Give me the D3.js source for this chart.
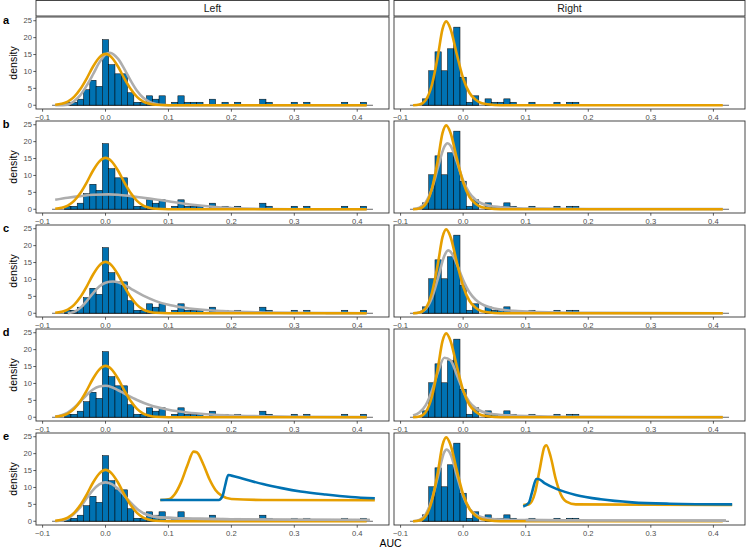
<!DOCTYPE html>
<html lang="en">
  <head>
    <meta charset="utf-8">
    <title>AUC density panels</title>
    <script src="https://d3js.org/d3.v7.min.js"></script>
    <style>
      body { margin: 0; background: #fff; }
      text { font-family: "Liberation Sans", Arial, sans-serif; }
    </style>
  </head>
<body>

<script>
// --- data ---
var columns = ["Left", "Right"];
var rowLetters = ["a", "b", "c", "d", "e"];
var xTicks = [-0.1, 0.0, 0.1, 0.2, 0.3, 0.4];
var yTicks = [0, 5, 10, 15, 20, 25];
var binWidth = 0.01;
var histRange = [-0.085, 0.425];

// histogram densities [bin centre, density]
var leftHist = [[-0.06, 0.9], [-0.05, 0.9], [-0.04, 1.8], [-0.03, 4.6], [-0.02, 7.4], [-0.01, 5.6],
  [0.00, 19.4], [0.01, 12.0], [0.02, 9.3], [0.03, 9.3], [0.04, 3.7], [0.05, 0.9], [0.06, 0.9],
  [0.07, 2.8], [0.08, 1.8], [0.09, 2.8], [0.11, 0.9], [0.12, 2.8], [0.13, 0.9], [0.14, 0.9],
  [0.15, 0.9], [0.17, 1.8], [0.19, 0.9], [0.21, 0.9], [0.25, 1.8], [0.26, 0.9], [0.30, 0.9],
  [0.32, 0.9], [0.38, 0.9], [0.41, 0.9]];
var rightHist = [[-0.06, 1.9], [-0.05, 10.2], [-0.04, 15.8], [-0.03, 10.2], [-0.02, 16.7], [-0.01, 23.1],
  [0.00, 8.3], [0.01, 0.9], [0.02, 2.8], [0.04, 1.9], [0.05, 0.9], [0.06, 0.9], [0.07, 1.9],
  [0.08, 0.9], [0.11, 0.9], [0.15, 0.9], [0.17, 0.9], [0.18, 0.9]];

// orange curves (same in every row)
var leftOrange = [[-0.08, 0.15], [-0.07, 0.45], [-0.06, 1.1], [-0.05, 2.5], [-0.04, 4.8], [-0.03, 7.9],
  [-0.02, 11.4], [-0.01, 14.1], [0, 15.2], [0.01, 14.1], [0.02, 11.4], [0.03, 7.9], [0.04, 4.8],
  [0.05, 2.5], [0.06, 1.1], [0.07, 0.45], [0.08, 0.15], [0.1, 0.02], [0.415, 0]];
var rightOrange = [[-0.08, 0], [-0.07, 0.2], [-0.06, 1.5], [-0.05, 6], [-0.04, 15], [-0.033, 22.5],
  [-0.027, 24.8], [-0.02, 22.5], [-0.01, 15], [0, 8], [0.01, 3.7], [0.02, 1.6], [0.03, 0.6],
  [0.05, 0.1], [0.07, 0], [0.415, 0]];

// grey fitted curves, one per row
var greyLeftA = [[-0.08, 0], [-0.06, 0.2], [-0.05, 1.2], [-0.04, 3.0], [-0.03, 5.8], [-0.02, 9.1],
  [-0.01, 12.6], [0, 15.0], [0.007, 15.5], [0.02, 13.7], [0.03, 10.7], [0.04, 7.3], [0.05, 4.3],
  [0.06, 2.2], [0.07, 1.0], [0.08, 0.4], [0.09, 0.1], [0.11, 0], [0.415, 0]];
var greyLeftB = [[-0.08, 2.8], [-0.06, 3.4], [-0.04, 3.9], [-0.02, 4.3], [0.005, 4.4], [0.02, 4.3],
  [0.04, 3.9], [0.06, 3.4], [0.08, 2.9], [0.1, 2.4], [0.12, 1.8], [0.15, 1.1], [0.18, 0.6],
  [0.2, 0.4], [0.25, 0.1], [0.3, 0.02], [0.415, 0]];
var greyLeftC = [[-0.06, 0], [-0.05, 0.4], [-0.04, 1.6], [-0.03, 3.6], [-0.02, 5.9], [-0.01, 7.9],
  [0, 9.0], [0.012, 9.4], [0.02, 9.2], [0.03, 8.4], [0.04, 7.3], [0.06, 5.2], [0.08, 3.6],
  [0.1, 2.5], [0.12, 1.8], [0.15, 1.1], [0.2, 0.5], [0.25, 0.25], [0.3, 0.12], [0.35, 0.06], [0.415, 0.03]];
var greyLeftD = [[-0.08, 0.2], [-0.07, 0.6], [-0.06, 1.4], [-0.05, 2.8], [-0.04, 4.6], [-0.03, 6.6],
  [-0.02, 8.2], [-0.01, 9.1], [0, 9.3], [0.01, 8.9], [0.02, 8.0], [0.03, 7.0], [0.05, 5.1],
  [0.07, 3.6], [0.1, 2.2], [0.13, 1.4], [0.16, 0.9], [0.2, 0.5], [0.25, 0.3], [0.3, 0.15], [0.415, 0.05]];
var greyLeftE = [[-0.08, 0], [-0.06, 0.8], [-0.05, 2.2], [-0.04, 4.2], [-0.03, 6.8], [-0.02, 9.2],
  [-0.01, 10.9], [0, 11.5], [0.01, 11.0], [0.02, 9.6], [0.03, 7.6], [0.04, 5.5], [0.05, 3.7],
  [0.06, 2.4], [0.07, 1.7], [0.08, 1.3], [0.1, 1.0], [0.15, 0.7], [0.2, 0.55], [0.3, 0.45], [0.42, 0.4]];
var greyRightB = [[-0.08, 0.1], [-0.07, 0.5], [-0.06, 2.0], [-0.05, 6.0], [-0.04, 12.5], [-0.03, 18.5],
  [-0.025, 19.5], [-0.02, 18.8], [-0.01, 14.0], [0, 8.5], [0.01, 4.8], [0.02, 2.8], [0.03, 1.7],
  [0.05, 0.8], [0.08, 0.4], [0.12, 0.2], [0.2, 0.1], [0.415, 0.05]];
var greyRightC = [[-0.08, 0], [-0.07, 0.2], [-0.06, 1.2], [-0.05, 4.5], [-0.04, 10.5], [-0.03, 17],
  [-0.024, 18.6], [-0.02, 18.2], [-0.01, 14.5], [0, 9.8], [0.01, 6.2], [0.02, 4.0], [0.03, 2.7],
  [0.05, 1.4], [0.08, 0.7], [0.12, 0.35], [0.2, 0.12], [0.415, 0.02]];
var greyRightD = [[-0.08, 0.5], [-0.07, 1.4], [-0.06, 3.5], [-0.05, 7.8], [-0.04, 13.5], [-0.03, 17.6],
  [-0.02, 16.8], [-0.01, 12.5], [0, 7.8], [0.01, 4.5], [0.02, 2.7], [0.03, 1.7], [0.05, 0.9],
  [0.08, 0.5], [0.12, 0.3], [0.2, 0.15], [0.415, 0.05]];
var greyRightE = [[-0.08, 0], [-0.07, 0.4], [-0.06, 2.0], [-0.05, 6.5], [-0.04, 13.5], [-0.03, 20.5],
  [-0.027, 21.2], [-0.02, 19.8], [-0.01, 13.5], [0, 7.5], [0.01, 3.8], [0.02, 2.0], [0.03, 1.2],
  [0.05, 0.6], [0.1, 0.35], [0.2, 0.25], [0.42, 0.2]];

// inset curves in row e
var leftInsetOrange = [[0.087, 6.3], [0.1, 6.5], [0.11, 8], [0.12, 11.5], [0.13, 16.5], [0.14, 20.6],
  [0.145, 20.4], [0.155, 17], [0.165, 12.5], [0.175, 9.2], [0.185, 7.5], [0.2, 6.6], [0.25, 6.3], [0.428, 6.2]];
var leftInsetBlue = [[0.087, 6.3], [0.18, 6.3], [0.186, 7.5], [0.19, 10.5], [0.195, 13.7], [0.2, 13.5],
  [0.22, 12.5], [0.25, 11.0], [0.28, 9.8], [0.31, 8.8], [0.35, 7.9], [0.39, 7.2], [0.428, 6.8]];
var rightInsetOrange = [[0.096, 4.8], [0.105, 5], [0.115, 8.5], [0.122, 15], [0.13, 22], [0.133, 22.5],
  [0.14, 19], [0.148, 12.5], [0.156, 8], [0.165, 5.8], [0.18, 5.0], [0.43, 4.8]];
var rightInsetBlue = [[0.096, 4.4], [0.105, 5.5], [0.11, 8.5], [0.117, 12.5], [0.12, 12.5], [0.13, 11.3],
  [0.15, 9.5], [0.18, 7.8], [0.22, 6.5], [0.27, 5.6], [0.33, 5.2], [0.43, 5.0]];

var hists = [leftHist, rightHist];
var oranges = [leftOrange, rightOrange];
var greys = [[greyLeftA, greyLeftB, greyLeftC, greyLeftD, greyLeftE],
             [null, greyRightB, greyRightC, greyRightD, greyRightE]];
var insets = [[leftInsetOrange, leftInsetBlue], [rightInsetOrange, rightInsetBlue]];

// --- layout ---
var W = 750, H = 550;
var colX = [[36, 389], [394, 745]];
var firstTop = 17, rowStep = 104, panelH = 92, stripH = 16;
var blue = "#0072B2", orange = "#E69F00", grey = "#ADADAD", frame = "#333333", tickCol = "#4D4D4D";

var svg = d3.select("body").append("svg")
    .attr("width", W)
    .attr("height", H)
    .style("background", "#fff");

var y0 = d3.scaleLinear().domain([-1.1, 26.1]).range([panelH, 0]);
var line = d3.line().curve(d3.curveMonotoneX);

columns.forEach(function(colName, ci) {
    var x = d3.scaleLinear().domain([-0.1105, 0.4505]).range(colX[ci]);

    // strip
    svg.append("rect")
        .attr("x", colX[ci][0]).attr("y", 0.5)
        .attr("width", colX[ci][1] - colX[ci][0]).attr("height", stripH - 0.5)
        .attr("fill", "#fff").attr("stroke", frame).attr("stroke-width", 0.9);
    svg.append("text")
        .attr("x", (colX[ci][0] + colX[ci][1]) / 2).attr("y", 12.3)
        .attr("text-anchor", "middle").attr("font-size", 10.5).attr("fill", "#1a1a1a")
        .text(colName);

    rowLetters.forEach(function(letter, ri) {
        var top = firstTop + ri * rowStep;
        var g = svg.append("g").attr("transform", "translate(0," + top + ")");
        var y = y0;
        var lineXY = line.x(d => x(d[0])).y(d => y(d[1]));

        // histogram
        g.selectAll("rect.bar")
            .data(hists[ci])
            .join("rect")
            .attr("class", "bar")
            .attr("x", d => x(d[0] - binWidth / 2))
            .attr("width", d => x(d[0] + binWidth / 2) - x(d[0] - binWidth / 2))
            .attr("y", d => y(d[1]))
            .attr("height", d => y(0) - y(d[1]))
            .attr("fill", blue)
            .attr("stroke", "#000")
            .attr("stroke-width", 0.5);
        g.append("line")
            .attr("x1", x(histRange[0])).attr("x2", x(histRange[1]))
            .attr("y1", y(0)).attr("y2", y(0))
            .attr("stroke", "#000").attr("stroke-width", 0.6);

        // grey then orange density curves
        if (greys[ci][ri]) {
            g.append("path")
                .attr("d", lineXY(greys[ci][ri]))
                .attr("fill", "none").attr("stroke", grey).attr("stroke-width", 2.6);
        }
        g.append("path")
            .attr("d", lineXY(oranges[ci]))
            .attr("fill", "none").attr("stroke", orange).attr("stroke-width", 2.6);
        if (ri === 4 && greys[ci][ri]) {
            // in the last row the grey tail sits on top
            g.append("path")
                .attr("d", lineXY(greys[ci][ri].filter(d => d[0] > 0.05)))
                .attr("fill", "none").attr("stroke", grey).attr("stroke-width", 2.6);
        }

        // insets in the last row
        if (ri === 4) {
            g.append("path")
                .attr("d", lineXY(insets[ci][0]))
                .attr("fill", "none").attr("stroke", orange).attr("stroke-width", 2.6);
            g.append("path")
                .attr("d", lineXY(insets[ci][1]))
                .attr("fill", "none").attr("stroke", blue).attr("stroke-width", 2.6);
        }

        // panel frame
        g.append("rect")
            .attr("x", colX[ci][0]).attr("y", 0)
            .attr("width", colX[ci][1] - colX[ci][0]).attr("height", panelH)
            .attr("fill", "none").attr("stroke", frame).attr("stroke-width", 0.9);

        // x axis
        var xAxis = g.append("g").attr("transform", "translate(0," + panelH + ")");
        xAxis.selectAll("line")
            .data(xTicks).join("line")
            .attr("x1", d => x(d)).attr("x2", d => x(d))
            .attr("y1", 0).attr("y2", 2.7)
            .attr("stroke", frame).attr("stroke-width", 0.8);
        xAxis.selectAll("text")
            .data(xTicks).join("text")
            .attr("x", d => x(d)).attr("y", 10.7)
            .attr("text-anchor", "middle").attr("font-size", 7.6).attr("fill", tickCol)
            .text(d => d3.format(".1f")(d));

        // y axis only on the left column
        if (ci === 0) {
            var yAxis = g.append("g");
            yAxis.selectAll("line")
                .data(yTicks).join("line")
                .attr("x1", colX[0][0] - 2.7).attr("x2", colX[0][0])
                .attr("y1", d => y(d)).attr("y2", d => y(d))
                .attr("stroke", frame).attr("stroke-width", 0.8);
            yAxis.selectAll("text")
                .data(yTicks).join("text")
                .attr("x", colX[0][0] - 4).attr("y", d => y(d) + 2.7)
                .attr("text-anchor", "end").attr("font-size", 7.6).attr("fill", tickCol)
                .text(d => d);
            g.append("text")
                .attr("transform", "translate(17," + (panelH / 2) + ") rotate(-90)")
                .attr("text-anchor", "middle").attr("font-size", 10.5).attr("fill", "#000")
                .text("density");
            g.append("text")
                .attr("x", 6).attr("y", 7)
                .attr("text-anchor", "middle").attr("font-size", 11).attr("font-weight", "bold")
                .text(letter);
        }
    });
});

svg.append("text")
    .attr("x", (colX[0][0] + colX[1][1]) / 2).attr("y", 547)
    .attr("text-anchor", "middle").attr("font-size", 10.5).attr("fill", "#000")
    .text("AUC");
</script>
</body>
</html>
